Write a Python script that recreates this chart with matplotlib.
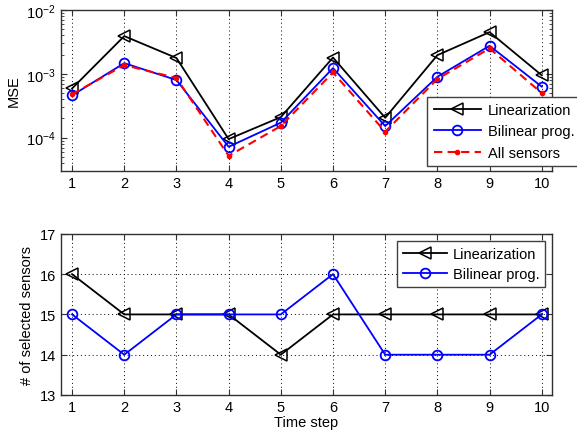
import numpy as np
import matplotlib
matplotlib.use('Agg')
import matplotlib.pyplot as plt
from matplotlib.ticker import LogLocator, FixedLocator

plt.rcParams['font.family'] = ['Liberation Sans', 'DejaVu Sans']
plt.rcParams['mathtext.default'] = 'regular'
plt.rcParams['font.size'] = 10.5

# Data
time_steps = [1, 2, 3, 4, 5, 6, 7, 8, 9, 10]
mse_linearization = [5.9e-4, 3.9e-3, 1.77e-3, 9.5e-5, 2.1e-4, 1.8e-3, 2.05e-4, 1.96e-3, 4.5e-3, 9.5e-4]
mse_bilinear = [4.6e-4, 1.47e-3, 8.0e-4, 7.2e-5, 1.72e-4, 1.23e-3, 1.52e-4, 9.0e-4, 2.75e-3, 6.3e-4]
mse_all_sensors = [4.8e-4, 1.37e-3, 8.6e-4, 5.2e-5, 1.52e-4, 1.05e-3, 1.24e-4, 8.3e-4, 2.5e-3, 5.0e-4]
sensors_linearization = [16, 15, 15, 15, 14, 15, 15, 15, 15, 15]
sensors_bilinear = [15, 14, 15, 15, 15, 16, 14, 14, 14, 15]

fig = plt.figure(figsize=(5.77, 4.39), dpi=100)
ax1 = fig.add_axes([0.105, 0.608, 0.852, 0.367])
ax2 = fig.add_axes([0.105, 0.098, 0.852, 0.367])

spine_col = '#303030'

# Top: MSE on log scale
ax1.plot(time_steps, mse_linearization, color='black', lw=1.3, marker='<', ms=8,
         mfc='none', mew=1.1, label='Linearization')
ax1.plot(time_steps, mse_bilinear, color='blue', lw=1.3, marker='o', ms=7,
         mfc='none', mew=1.3, label='Bilinear prog.')
ax1.plot(time_steps, mse_all_sensors, color='red', lw=1.5, ls='--', dashes=(4, 2.5),
         marker='.', ms=6, label='All sensors')
ax1.set_yscale('log')
ax1.set_ylim(3e-5, 1e-2)
ax1.set_xlim(0.78, 10.2)
ax1.set_xticks(time_steps)
ax1.yaxis.set_major_locator(FixedLocator([1e-4, 1e-3, 1e-2]))
ax1.yaxis.set_minor_locator(LogLocator(base=10, subs=np.arange(2, 10)))
ax1.set_yticklabels(['$10^{-4}$', '$10^{-3}$', '$10^{-2}$'])
ax1.set_ylabel('MSE')
ax1.grid(True, axis='x', which='major', ls=(0, (1, 3)), color='black', lw=0.7)
ax1.legend(loc='lower left', bbox_to_anchor=(0.746, 0.03), frameon=True, fancybox=False,
           edgecolor='#404040', handlelength=3.2, handletextpad=0.5, borderpad=0.45,
           labelspacing=0.5, borderaxespad=0)

# Bottom: number of selected sensors
ax2.plot(time_steps, sensors_linearization, color='black', lw=1.3, marker='<', ms=8,
         mfc='none', mew=1.1, label='Linearization')
ax2.plot(time_steps, sensors_bilinear, color='blue', lw=1.3, marker='o', ms=7,
         mfc='none', mew=1.3, label='Bilinear prog.')
ax2.set_ylim(13, 17)
ax2.set_xlim(0.78, 10.2)
ax2.set_xticks(time_steps)
ax2.set_yticks([13, 14, 15, 16, 17])
ax2.set_xlabel('Time step', labelpad=1)
ax2.set_ylabel('# of selected sensors')
ax2.grid(True, which='major', ls=(0, (1, 3)), color='black', lw=0.7)
ax2.legend(loc='upper right', bbox_to_anchor=(0.986, 0.957), frameon=True, fancybox=False,
           edgecolor='#404040', handlelength=3.0, handletextpad=0.4, borderpad=0.4,
           labelspacing=0.45, borderaxespad=0)

for ax in (ax1, ax2):
    ax.set_axisbelow(True)
    for s in ax.spines.values():
        s.set_color(spine_col)
        s.set_linewidth(1.0)
    ax.tick_params(which='both', direction='in', top=True, right=True, colors=spine_col,
                   labelcolor='black')
    ax.tick_params(which='major', length=4)
    ax.tick_params(which='minor', length=2.5)
    leg = ax.get_legend()
    leg.get_frame().set_linewidth(1.0)
    leg.get_frame().set_alpha(1)

fig.savefig('out.png', dpi=100)
